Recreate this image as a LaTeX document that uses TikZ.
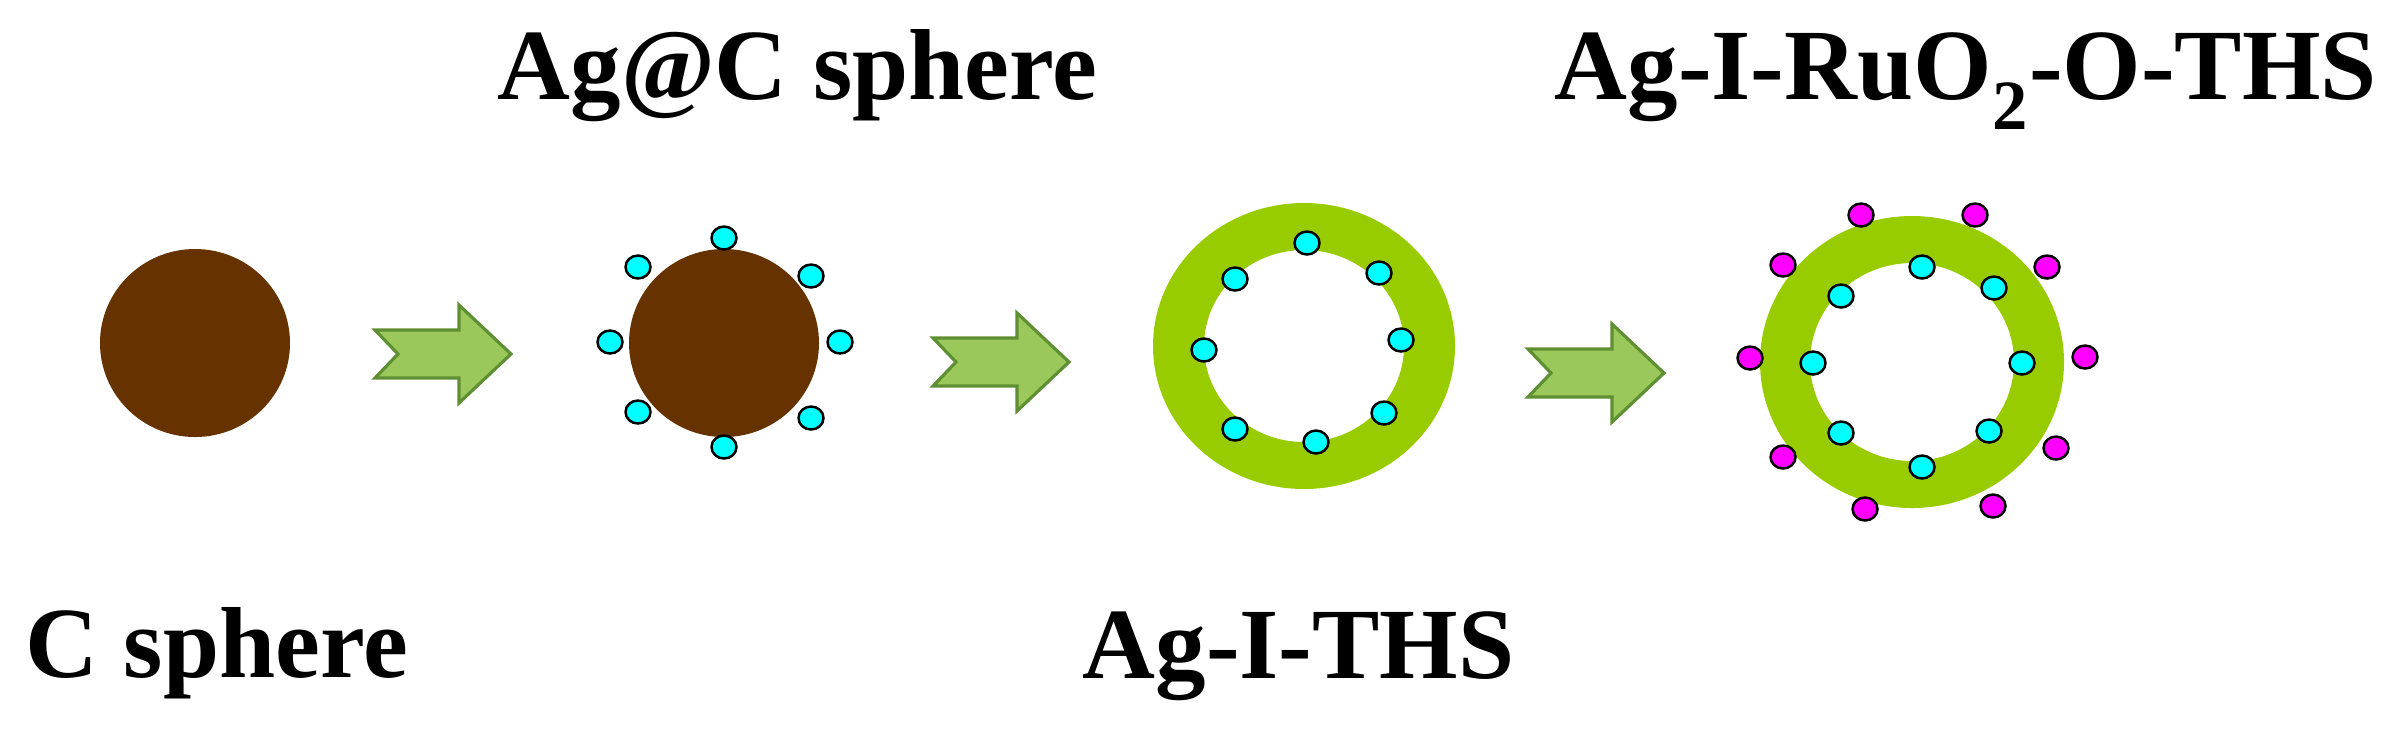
\documentclass[tikz,border=0pt]{standalone}
\usepackage{fontspec}
\setmainfont{Liberation Serif}

\definecolor{carbon}{HTML}{663300}
\definecolor{shell}{HTML}{99CC00}
\definecolor{arrowfill}{HTML}{9BC85A}
\definecolor{arrowline}{HTML}{5E8F32}
\definecolor{agdot}{HTML}{00FFFF}
\definecolor{rudot}{HTML}{FF00FF}

\begin{document}
\begin{tikzpicture}[x=0.01cm, y=-0.01cm,
        stagelabel/.style = {font=\fontsize{28.7}{34}\selectfont\bfseries, anchor=base west, inner sep=0pt},
        procarrow/.style  = {fill=arrowfill, draw=arrowline, line width=0.9pt, line join=miter},
        agsite/.style     = {fill=agdot, draw=black, line width=0.7pt},
        rusite/.style     = {fill=rudot, draw=black, line width=0.7pt}]

        \useasboundingbox (0,0) rectangle (2383,729);

        % carbon spheres
        \fill[carbon] (195,343) ellipse [x radius=95, y radius=94];
        \fill[carbon] (724,343) ellipse [x radius=95, y radius=94];

        % hollow shells
        \fill[shell, even odd rule] (1304,346) ellipse [x radius=151, y radius=143]
                                    (1304,346) ellipse [x radius=100, y radius=96];
        \fill[shell, even odd rule] (1912,362) ellipse [x radius=152, y radius=146]
                                    (1912,362) ellipse [x radius=102, y radius=99];

        % process arrows
        \foreach \x/\y in {375/354, 933/362, 1528/373}
        \draw[procarrow] (\x,\y-24) -- ++(84,0) -- ++(0,-25) -- ++(52,49) -- ++(-52,49)
                         -- ++(0,-25) -- ++(-84,0) -- ++(23,-24) -- cycle;

        % Ag particles
        \foreach \x/\y in {724/238, 638/267, 811/276, 610/342, 840/342, 638/412, 811/418, 724/447}
        \draw[agsite] (\x,\y) ellipse [x radius=12.5, y radius=11.5];
        \foreach \x/\y in {1307/243, 1379/273, 1401/340, 1384/413, 1316/442, 1235/429, 1204/350, 1235/279}
        \draw[agsite] (\x,\y) ellipse [x radius=12.5, y radius=11.5];
        \foreach \x/\y in {1922/267, 1994/288, 2022/363, 1989/431, 1922/467, 1841/433, 1813/363, 1841/296}
        \draw[agsite] (\x,\y) ellipse [x radius=12.5, y radius=11.5];

        % RuO2 particles
        \foreach \x/\y in {1861/215, 1975/215, 1783/265, 2047/267, 1750/358, 2085/357, 1783/457, 2056/448, 1865/509, 1993/506}
        \draw[rusite] (\x,\y) ellipse [x radius=12.5, y radius=11.5];

        \node[stagelabel] (csph)   at (25,677)   {C sphere};
        \node[stagelabel] (agc)    at (497,99)   {Ag@C sphere};
        \node[stagelabel] (agiths) at (1082,678) {Ag-I-THS};
        \node[stagelabel] (agiru)  at (1554,99)  {Ag-I-RuO\raisebox{-0.3ex}{\textsubscript{2}}-O-THS};

    \end{tikzpicture}
\end{document}
